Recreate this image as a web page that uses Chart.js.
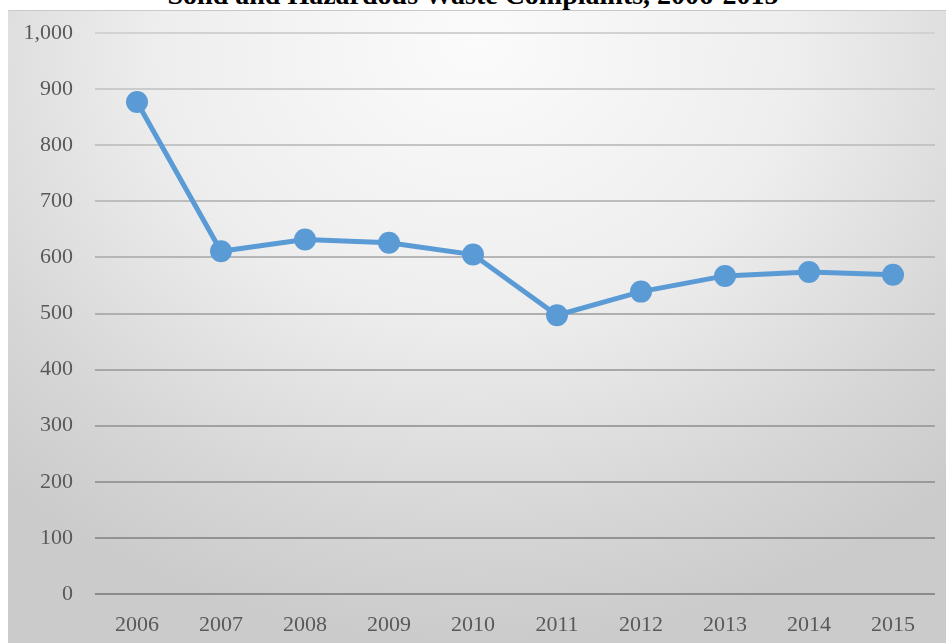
<!DOCTYPE html>
<html>
<head>
<meta charset="utf-8">
<script src="https://cdn.jsdelivr.net/npm/chart.js@4/dist/chart.umd.min.js"></script>
<style>
  html, body { margin: 0; padding: 0; background: #fff; }
  body { width: 946px; height: 643px; position: relative; overflow: hidden; }
  #title {
    position: absolute; left: 0; width: 946px; top: -20px; text-align: center;
    font: bold 28px "Liberation Serif", "Times New Roman", serif; color: #000; line-height: 30px;
  }
  #panel {
    position: absolute; left: 8px; top: 10px; width: 938px; height: 633px;
    border-top: 1px solid #c9c9c9; box-sizing: border-box;
    background: radial-gradient(ellipse 75% 95% at 50% 5%, #fbfbfb 0%, #eeeeee 45%, #d6d6d6 80%, #cbcbcb 100%);
  }
  #chart { position: absolute; left: 0; top: 0; }
</style>
</head>
<body>
<div id="title">Solid and Hazardous Waste Complaints, 2006-2015</div>
<div id="panel"><canvas id="chart" width="938" height="632"></canvas></div>
<script>
// complaints per year
const years = ['2006', '2007', '2008', '2009', '2010', '2011', '2012', '2013', '2014', '2015'];
const complaints = [877, 611, 632, 626, 605, 497, 539, 567, 574, 569];
const yTicks = [0, 100, 200, 300, 400, 500, 600, 700, 800, 900, 1000];

const LABEL_FONT = { family: '"Liberation Serif", "Times New Roman", serif', size: 22 };

// gridlines read lighter near the top where the backdrop is bright
function gridColor(ctx) {
  const v = ctx.tick ? ctx.tick.value : 0;
  const g = Math.round(140 + (v / 1000) * 70);
  return `rgb(${g},${g},${g})`;
}

new Chart(document.getElementById('chart'), {
  type: 'line',
  data: {
    labels: years,
    datasets: [{
      data: complaints,
      borderColor: '#5b9bd5',
      backgroundColor: '#5b9bd5',
      borderWidth: 5,
      pointRadius: 11,
      pointHoverRadius: 11,
      pointBorderWidth: 0,
      tension: 0,
      fill: false
    }]
  },
  options: {
    responsive: false,
    animation: false,
    layout: { padding: { top: 22, right: 8, left: 0, bottom: 0 } },
    plugins: { legend: { display: false }, tooltip: { enabled: false }, title: { display: false } },
    scales: {
      x: {
        offset: true,
        grid: { display: false, drawTicks: false },
        border: { display: false },
        ticks: { color: '#595959', font: LABEL_FONT, padding: 18, maxRotation: 0 },
        afterFit: s => { s.height = 49; s.paddingLeft = 0; s.paddingRight = 0; }
      },
      y: {
        min: 0, max: 1000,
        afterBuildTicks: s => { s.ticks = yTicks.map(v => ({ value: v })); },
        grid: { color: gridColor, lineWidth: 2, drawTicks: false },
        border: { display: false },
        ticks: {
          color: '#595959', font: LABEL_FONT, padding: 22,
          callback: v => v.toLocaleString('en-US')
        },
        afterFit: s => { s.width = 87; s.paddingTop = 0; s.paddingBottom = 0; }
      }
    }
  }
});
</script>
</body>
</html>
